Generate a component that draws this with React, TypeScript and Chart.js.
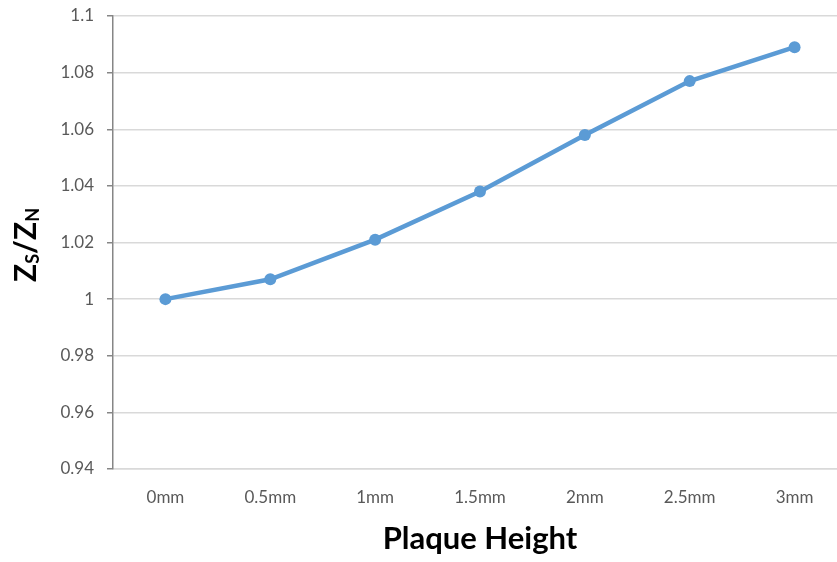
import React, { useEffect, useRef } from "react";
import { Chart, registerables } from "chart.js";

Chart.register(...registerables);

const categories = ["0mm", "0.5mm", "1mm", "1.5mm", "2mm", "2.5mm", "3mm"];
const ratioValues = [1.0, 1.007, 1.021, 1.038, 1.058, 1.077, 1.089];
const yMin = 0.94;
const yMax = 1.1;
const yStep = 0.02;
const xTitle = "Plaque Height";
const yTitleParts = [
  { text: "Z", sub: false },
  { text: "S", sub: true },
  { text: "/", sub: false },
  { text: "Z", sub: false },
  { text: "N", sub: true },
];

const FONT = "Lato, 'Open Sans', sans-serif";

const yTitlePlugin = {
  id: "yTitle",
  afterDraw(chart: any) {
    const ctx = chart.ctx;
    ctx.save();
    const big = "bold 30px " + FONT;
    const small = "bold 18px " + FONT;
    let total = 0;
    for (const p of yTitleParts) {
      ctx.font = p.sub ? small : big;
      total += ctx.measureText(p.text).width;
    }
    ctx.translate(26, 245);
    ctx.rotate(-Math.PI / 2);
    ctx.fillStyle = "#000000";
    ctx.textBaseline = "middle";
    let x = -total / 2;
    for (const p of yTitleParts) {
      ctx.font = p.sub ? small : big;
      ctx.fillText(p.text, x, p.sub ? 7 : 0);
      x += ctx.measureText(p.text).width;
    }
    ctx.restore();
  },
};

export default function App() {
  const ref = useRef<HTMLCanvasElement>(null);
  useEffect(() => {
    document.body.style.margin = "0";
    const chart = new Chart(ref.current!, {
      type: "line",
      data: {
        labels: categories,
        datasets: [
          {
            data: ratioValues,
            borderColor: "#5b9bd5",
            backgroundColor: "#5b9bd5",
            borderWidth: 4.5,
            pointRadius: 6,
            pointHoverRadius: 6,
            pointBackgroundColor: "#5b9bd5",
            pointBorderWidth: 0,
            tension: 0,
          },
        ],
      },
      options: {
        animation: false,
        responsive: false,
        maintainAspectRatio: false,
        layout: { padding: { top: 16, right: 0, left: 0, bottom: 0 } },
        plugins: { legend: { display: false }, tooltip: { enabled: false } },
        scales: {
          x: {
            offset: true,
            grid: { display: false },
            border: { display: true, color: "#d9d9d9", width: 1.5 },
            ticks: { color: "#595959", font: { family: FONT, size: 17 }, padding: 10 },
            title: {
              display: true,
              text: xTitle,
              color: "#000000",
              font: { family: FONT, size: 31, weight: "bold" },
              padding: { top: 12 },
            },
            afterFit(axis: any) {
              axis.height = 93;
            },
          },
          y: {
            min: yMin,
            max: yMax,
            ticks: {
              stepSize: yStep,
              color: "#595959",
              font: { family: FONT, size: 17 },
              padding: 13,
              callback: (v: any) => String(Math.round(Number(v) * 100) / 100),
            },
            grid: { color: "#d9d9d9", lineWidth: 1.5, tickLength: 6, tickColor: "#868686" },
            border: { display: true, color: "#868686", width: 1.5 },
            afterFit(axis: any) {
              axis.width = 113;
              axis.paddingTop = 0;
              axis.paddingBottom = 0;
            },
          },
        },
      },
      plugins: [yTitlePlugin],
    });
    return () => chart.destroy();
  }, []);
  return (
    <div style={{ position: "absolute", left: 0, top: 0, width: 837, height: 562, overflow: "hidden" }}>
      <div style={{ position: "absolute", left: 0, top: 0, width: 853, height: 562 }}>
        <canvas ref={ref} width={853} height={562} style={{ width: 853, height: 562, display: "block" }} />
      </div>
    </div>
  );
}
